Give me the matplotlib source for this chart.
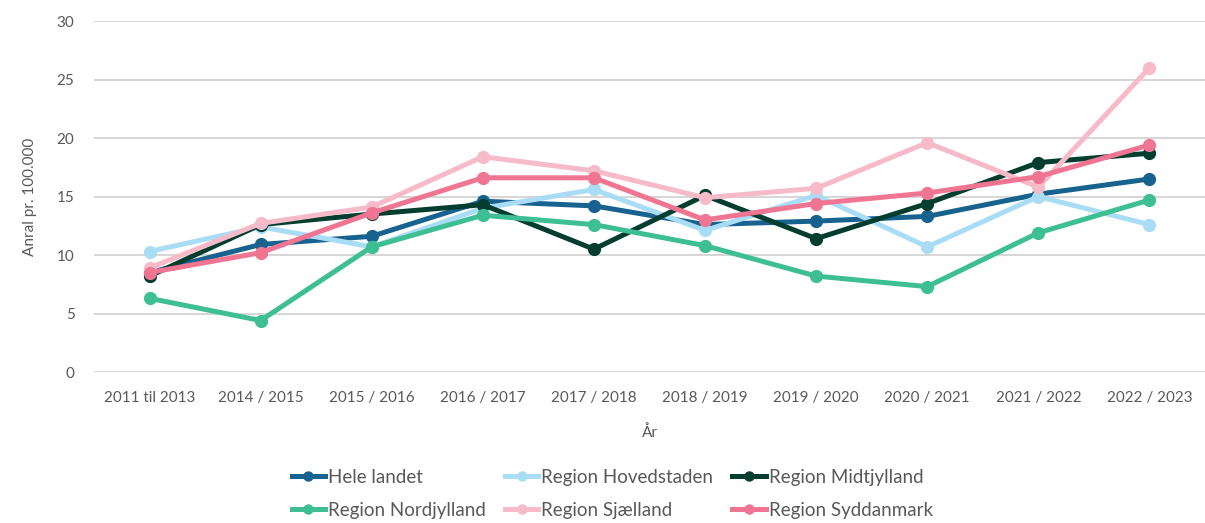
import matplotlib
matplotlib.use("Agg")
import matplotlib.pyplot as plt

plt.rcParams['font.family'] = ['Lato', 'DejaVu Sans']

categories = ["2011 til 2013", "2014 / 2015", "2015 / 2016", "2016 / 2017", "2017 / 2018",
              "2018 / 2019", "2019 / 2020", "2020 / 2021", "2021 / 2022", "2022 / 2023"]

hele_landet = [8.5, 10.9, 11.6, 14.6, 14.2, 12.6, 12.9, 13.3, 15.2, 16.5]
hovedstaden = [10.3, 12.4, 10.7, 14.0, 15.6, 12.1, 15.1, 10.7, 15.0, 12.6]
midtjylland = [8.2, 12.6, 13.5, 14.3, 10.5, 15.1, 11.4, 14.4, 17.9, 18.7]
nordjylland = [6.3, 4.4, 10.7, 13.4, 12.6, 10.8, 8.2, 7.3, 11.9, 14.7]
sjaelland = [8.9, 12.7, 14.1, 18.4, 17.2, 14.9, 15.7, 19.6, 15.8, 26.0]
syddanmark = [8.5, 10.2, 13.6, 16.6, 16.6, 13.0, 14.4, 15.3, 16.7, 19.4]

series = [
    ("Hele landet", hele_landet, "#17628f"),
    ("Region Hovedstaden", hovedstaden, "#a9dcf5"),
    ("Region Midtjylland", midtjylland, "#033d2f"),
    ("Region Nordjylland", nordjylland, "#3dbf93"),
    ("Region Sjælland", sjaelland, "#f7bac8"),
    ("Region Syddanmark", syddanmark, "#f07592"),
]

text_color = "#595959"

fig = plt.figure(figsize=(12.05, 5.23), dpi=100)
ax = fig.add_axes([0.078, 0.2887, 0.922, 0.6711])

x = list(range(len(categories)))
handles = []
for name, vals, col in series:
    h, = ax.plot(x, vals, color=col, lw=3.6, marker='o', markersize=8.5,
                 solid_joinstyle='round', label=name, zorder=3)
    handles.append(h)

ax.set_xlim(-0.5, len(categories) - 0.5)
ax.set_ylim(0, 30)
ax.set_yticks(range(0, 31, 5))
ax.set_xticks(x)
ax.set_xticklabels(categories)
ax.grid(axis='y', color='#d0d0d0', lw=1.2)
ax.set_axisbelow(True)
for s in ax.spines.values():
    s.set_visible(False)
ax.tick_params(axis='both', length=0, colors=text_color, labelsize=11)
ax.tick_params(axis='x', pad=14)
ax.tick_params(axis='y', pad=14)
ax.set_xlabel("År", color=text_color, fontsize=11, labelpad=14)
ax.set_ylabel("Anral pr. 100.000", color=text_color, fontsize=11, labelpad=14)

order = [0, 3, 1, 4, 2, 5]
leg = fig.legend([handles[i] for i in order], [series[i][0] for i in order],
                 ncol=3, loc='lower center', bbox_to_anchor=(0.508, -0.024),
                 frameon=False, fontsize=13.5, handlelength=1.8, handletextpad=0.15,
                 columnspacing=1.0, labelspacing=0.85, labelcolor=text_color)
for lh in leg.legend_handles:
    lh.set_markersize(6.5)
    lh.set_linewidth(3.6)

fig.savefig("out.png", dpi=100)
